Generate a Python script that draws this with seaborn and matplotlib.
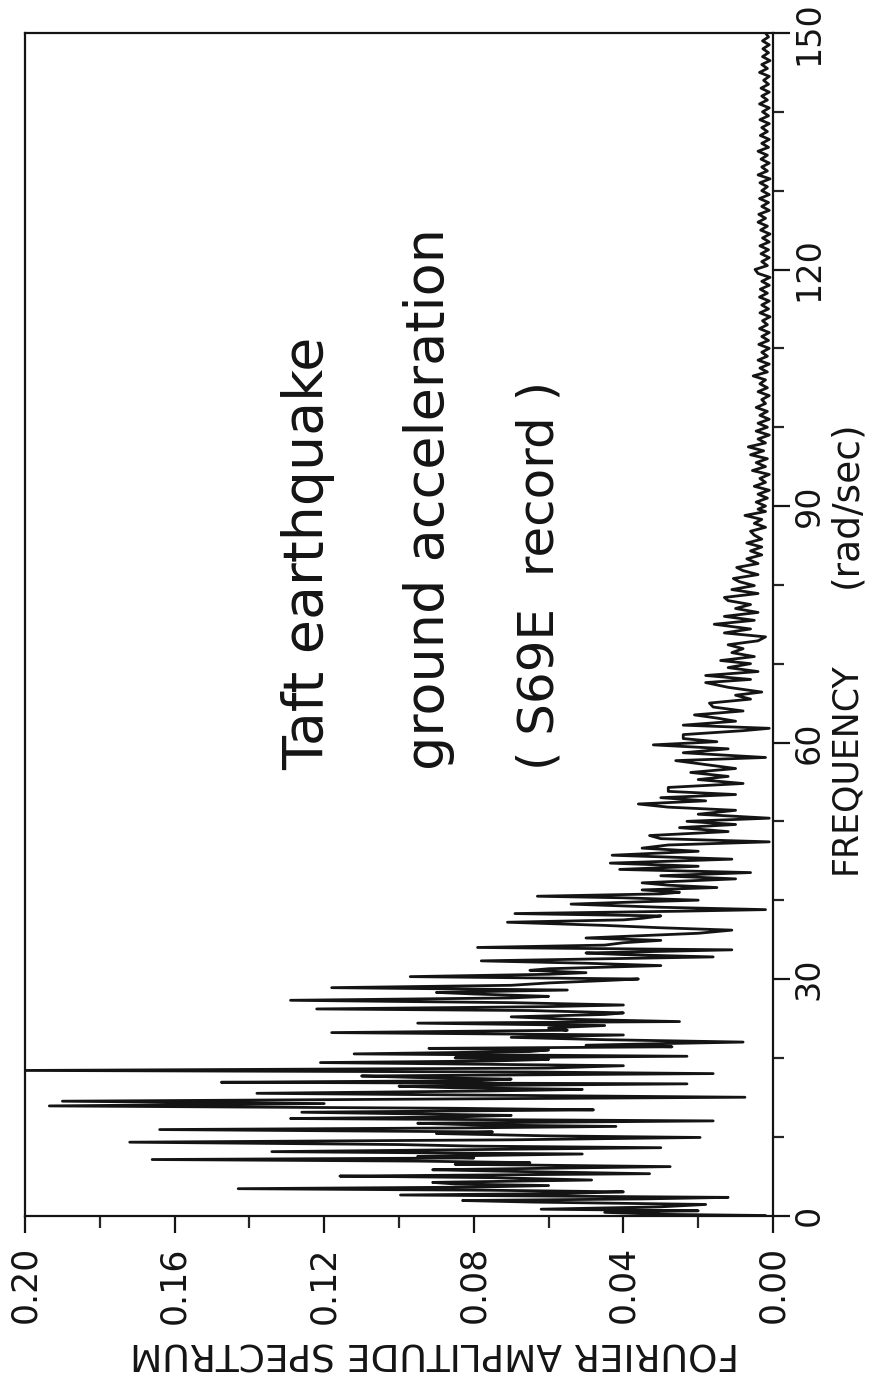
import numpy as np
import matplotlib
matplotlib.use("Agg")
import matplotlib.pyplot as plt
import seaborn as sns
from matplotlib.ticker import MultipleLocator, FixedLocator

# ---------------- data ----------------
freq_low = [0.0, 0.15, 0.4, 0.6, 0.8, 1.1, 1.4, 1.7, 1.9, 2.1, 2.3, 2.6, 2.8, 3.0, 3.2, 3.4,
            3.6, 3.8, 4.0, 4.2, 4.5, 4.8, 5.0, 5.3, 5.6, 5.8, 6.0, 6.2, 6.5, 6.7, 6.9, 7.1,
            7.3, 7.5, 7.8, 8.1, 8.4, 8.6, 8.8, 9.0, 9.3, 9.6, 9.9, 10.1, 10.4, 10.6, 10.9,
            11.1, 11.3, 11.5, 11.7, 12.0, 12.3, 12.5, 12.7, 13.1, 13.4, 13.6, 13.9, 14.2,
            14.5, 14.8, 15.0, 15.2, 15.5, 15.8, 16.0, 16.2, 16.4, 16.7, 16.9, 17.1, 17.3,
            17.5, 17.7, 18.0, 18.2, 18.4, 18.7, 19.0, 19.2, 19.4, 19.6, 19.8, 20.0, 20.2,
            20.5, 20.8, 21.0, 21.2, 21.4, 21.6, 21.8]
amp_low = [0.002, 0.030, 0.045, 0.020, 0.062, 0.030, 0.018, 0.064, 0.083, 0.035, 0.012, 0.0996,
           0.055, 0.040, 0.075, 0.143, 0.080, 0.060, 0.085, 0.091, 0.0485, 0.075, 0.1158, 0.033,
           0.070, 0.091, 0.060, 0.0275, 0.085, 0.065, 0.095, 0.166, 0.080, 0.095, 0.051, 0.134,
           0.070, 0.030, 0.080, 0.100, 0.172, 0.070, 0.0195, 0.060, 0.090, 0.075, 0.164, 0.085,
           0.042, 0.080, 0.095, 0.016, 0.129, 0.085, 0.070, 0.126, 0.048, 0.085, 0.1935, 0.120,
           0.190, 0.080, 0.0075, 0.060, 0.138, 0.075, 0.051, 0.085, 0.100, 0.023, 0.1475, 0.080,
           0.070, 0.095, 0.110, 0.016, 0.065, 0.200, 0.060, 0.040, 0.080, 0.121, 0.075, 0.060,
           0.085, 0.023, 0.112, 0.065, 0.060, 0.092, 0.027, 0.050, 0.030]

freq_mid = [22.0, 22.3, 22.6, 22.9, 23.2, 23.5, 23.8, 24.1, 24.4, 24.6, 24.9, 25.2, 25.5, 25.7,
            26.0, 26.2, 26.5, 26.7, 27.0, 27.3, 27.6, 27.8, 28.1, 28.3, 28.6, 28.9, 29.2, 29.5,
            29.8, 30.0, 30.3, 30.6, 30.8, 31.1, 31.3, 31.7, 32.0, 32.3, 32.6, 32.8, 33.1, 33.3,
            33.7, 34.0, 34.3, 34.6, 34.9, 35.2, 35.5, 35.8, 36.2, 36.5, 36.8, 37.2, 37.5, 37.7,
            38.0, 38.3, 38.6, 38.8, 39.1, 39.5, 39.8, 40.0, 40.3, 40.5, 40.8, 41.0, 41.3, 41.6,
            41.9, 42.2, 42.5, 42.7, 43.1, 43.5, 43.9, 44.3, 44.7]
amp_mid = [0.008, 0.045, 0.070, 0.040, 0.118, 0.055, 0.060, 0.045, 0.095, 0.025, 0.055, 0.070,
           0.045, 0.040, 0.065, 0.122, 0.060, 0.040, 0.070, 0.129, 0.070, 0.060, 0.080, 0.090,
           0.055, 0.118, 0.070, 0.060, 0.045, 0.036, 0.097, 0.060, 0.050, 0.065, 0.060, 0.030,
           0.050, 0.078, 0.040, 0.016, 0.040, 0.050, 0.011, 0.079, 0.045, 0.040, 0.030, 0.050,
           0.035, 0.020, 0.011, 0.030, 0.045, 0.071, 0.040, 0.035, 0.030, 0.069, 0.025, 0.002,
           0.030, 0.054, 0.035, 0.020, 0.040, 0.063, 0.030, 0.025, 0.035, 0.015, 0.028, 0.035,
           0.020, 0.010, 0.030, 0.006, 0.041, 0.020, 0.0435]

freq_upper = [45.2, 45.7, 46.2, 46.6, 47.0, 47.4, 47.8, 48.2, 48.7, 49.2, 49.6, 50.0, 50.4, 50.9,
              51.4, 51.8, 52.2, 52.6, 53.0, 53.4, 53.8, 54.3, 54.8, 55.3, 55.7, 56.2, 56.7, 57.2,
              57.7, 58.1, 58.7, 59.2, 59.7, 60.1, 60.5, 61.0, 61.5, 61.8, 62.2, 62.7, 63.1, 63.5,
              64.0, 64.5, 65.0, 65.5, 66.0, 66.4, 67.0, 67.6]
amp_upper = [0.011, 0.043, 0.020, 0.035, 0.028, 0.001, 0.030, 0.033, 0.012, 0.025, 0.010, 0.023,
             0.001, 0.020, 0.010, 0.028, 0.036, 0.018, 0.030, 0.010, 0.028, 0.028, 0.008, 0.020,
             0.012, 0.022, 0.010, 0.018, 0.026, 0.002, 0.024, 0.012, 0.032, 0.015, 0.024, 0.024,
             0.008, 0.001, 0.024, 0.010, 0.015, 0.021, 0.008, 0.016, 0.017, 0.006, 0.010, 0.003,
             0.012, 0.018]

freq_tail = [68.0, 68.5, 69.0, 69.5, 70.0, 70.4, 70.9, 71.4, 71.9, 72.4, 72.9, 73.4, 73.9, 74.4,
             75.0, 75.5, 76.0, 76.5, 77.0, 77.5, 78.0, 78.4, 78.9, 79.4, 79.9, 80.4, 80.8, 81.3,
             81.8, 82.2, 82.7, 83.3, 83.8, 84.3, 84.8, 85.3, 85.8, 86.3, 86.8, 87.3, 87.8, 88.3,
             88.8, 89.3, 89.6]
amp_tail = [0.006, 0.018, 0.004, 0.012, 0.006, 0.014, 0.005, 0.011, 0.008, 0.012, 0.004, 0.002,
            0.013, 0.006, 0.0157, 0.005, 0.013, 0.004, 0.010, 0.006, 0.012, 0.013, 0.004, 0.011,
            0.005, 0.009, 0.0106, 0.004, 0.008, 0.0097, 0.004, 0.007, 0.003, 0.006, 0.003, 0.007,
            0.003, 0.005, 0.006, 0.002, 0.005, 0.003, 0.0075, 0.002, 0.004]

freq_high = [90.0, 90.5, 91.0, 91.5, 92.0, 92.5, 93.0, 93.5, 94.0, 94.5, 95.0, 95.5, 96.0, 96.5,
             97.0, 97.5, 98.0, 98.5, 99.0, 99.5, 100.0, 100.5, 101.0, 101.5, 102.0, 102.5, 103.0,
             103.5, 104.0, 104.5, 105.0, 105.5, 106.0, 106.5, 107.0, 107.5, 108.0, 108.5, 109.0,
             109.5, 110.0, 110.5, 111.0, 111.5, 112.0, 112.5, 113.0, 113.5, 114.0, 114.5, 115.0,
             115.5, 116.0, 116.5, 117.0, 117.5, 118.0, 118.5, 119.0, 119.5, 120.0, 120.5, 121.0,
             121.5, 122.0, 122.5, 123.0, 123.5, 124.0, 124.5, 125.0, 125.5, 126.0, 126.5, 127.0,
             127.5, 128.0, 128.5, 129.0, 129.5, 130.0, 130.5, 131.0, 131.5, 132.0, 132.5, 133.0,
             133.5, 134.0, 134.5, 135.0, 135.5, 136.0, 136.5, 137.0, 137.5, 138.0, 138.5, 139.0,
             139.5, 140.0, 140.5, 141.0, 141.5, 142.0, 142.5, 143.0, 143.5, 144.0, 144.5, 145.0,
             145.5, 146.0, 146.5, 147.0, 147.5, 148.0, 148.5, 149.0, 149.5, 150.0]
amp_high = [0.0020, 0.0045, 0.0015, 0.0040, 0.0010, 0.0050, 0.0020, 0.0035, 0.0010, 0.0055,
            0.0020, 0.0045, 0.0015, 0.0060, 0.0025, 0.0066, 0.0020, 0.0040, 0.0010, 0.0045,
            0.0015, 0.0040, 0.0010, 0.0035, 0.0015, 0.0045, 0.0020, 0.0030, 0.0010, 0.0040,
            0.0015, 0.0035, 0.0020, 0.0053, 0.0015, 0.0035, 0.0010, 0.0040, 0.0015, 0.0030,
            0.0010, 0.0038, 0.0012, 0.0030, 0.0010, 0.0036, 0.0015, 0.0028, 0.0008, 0.0035,
            0.0012, 0.0030, 0.0010, 0.0036, 0.0015, 0.0034, 0.0010, 0.0030, 0.0008, 0.0040,
            0.0048, 0.0015, 0.0030, 0.0010, 0.0032, 0.0012, 0.0035, 0.0010, 0.0028, 0.0008,
            0.0033, 0.0015, 0.0040, 0.0020, 0.0038, 0.0010, 0.0030, 0.0012, 0.0036, 0.0010,
            0.0030, 0.0015, 0.0035, 0.0008, 0.0040, 0.0015, 0.0030, 0.0010, 0.0032, 0.0015,
            0.0040, 0.0012, 0.0030, 0.0010, 0.0034, 0.0015, 0.0030, 0.0010, 0.0035, 0.0012,
            0.0028, 0.0010, 0.0036, 0.0015, 0.0030, 0.0010, 0.0032, 0.0012, 0.0025, 0.0010,
            0.0036, 0.0015, 0.0030, 0.0008, 0.0028, 0.0012, 0.0027, 0.0010, 0.0028, 0.0012,
            0.0020]

amp_ticks = [0.20, 0.16, 0.12, 0.08, 0.04, 0.00]
amp_tick_labels = ["0.20", "0.16", "0.12", "0.08", "0.04", "0.00"]
freq_ticks = [0, 30, 60, 90, 120, 150]
freq_tick_labels = ["0", "30", "60", "90", "120", "150"]

x_label = "FOURIER AMPLITUDE SPECTRUM"
y_label_1 = "FREQUENCY"
y_label_2 = "(rad/sec)"
note_lines = ["Taft earthquake", "ground acceleration", "( S69E  record )"]

# ---------------- figure ----------------
sns.set_style("ticks")
plt.rcParams["font.family"] = ["DejaVu Sans"]

W, H = 877, 1380
INK = "#141414"
fig = plt.figure(figsize=(W / 100, H / 100), dpi=100)
ax = fig.add_axes([25 / W, 164.5 / H, 748 / W, 1182.5 / H])

freq = np.concatenate([freq_low, freq_mid, freq_upper, freq_tail, freq_high])
amp = np.concatenate([amp_low, amp_mid, amp_upper, amp_tail, amp_high])

sns.lineplot(x=amp, y=freq, orient="y", sort=False, estimator=None,
             color=INK, lw=2.0, ax=ax)

ax.set_xlim(0.20, 0.0)
ax.set_ylim(0, 150)

ax.xaxis.set_major_locator(FixedLocator(amp_ticks))
ax.xaxis.set_minor_locator(MultipleLocator(0.02))
ax.set_xticklabels(amp_tick_labels, rotation=90)
ax.yaxis.tick_right()
ax.yaxis.set_major_locator(FixedLocator(freq_ticks))
ax.yaxis.set_minor_locator(MultipleLocator(10))
ax.set_yticklabels(freq_tick_labels, rotation=90, va="center")

ax.tick_params(axis="x", which="major", direction="out", length=12, width=1.6,
               labelsize=25, pad=10, colors=INK)
ax.tick_params(axis="x", which="minor", direction="out", length=8.5, width=1.6)
ax.tick_params(axis="y", which="major", direction="out", length=12.5, width=1.6,
               labelsize=24, pad=1.5, colors=INK)
ax.tick_params(axis="y", which="minor", direction="out", length=8, width=1.6)

for s in ax.spines.values():
    s.set_linewidth(1.6)
    s.set_color(INK)

ax.set_xlabel("")
ax.set_ylabel("")

# axis titles (rotated like the reference)
fig.text(435 / W, 1 - 1353 / H, x_label, rotation=180, ha="center", va="center",
         fontsize=27, color=INK)
fig.text(845 / W, 1 - 768 / H, y_label_1, rotation=90, ha="center", va="center",
         fontsize=25, color=INK)
fig.text(846 / W, 1 - 504 / H, y_label_2, rotation=90, ha="center", va="center",
         fontsize=27, color=INK)

# annotation lines
for xb, line, fs in zip([323, 444, 553], note_lines, [40, 39, 36]):
    fig.text(xb / W, 1 - 770 / H, line, rotation=90, rotation_mode="anchor",
             ha="left", va="baseline", fontsize=fs, color=INK)

fig.savefig("out.png", dpi=100, facecolor="white")
